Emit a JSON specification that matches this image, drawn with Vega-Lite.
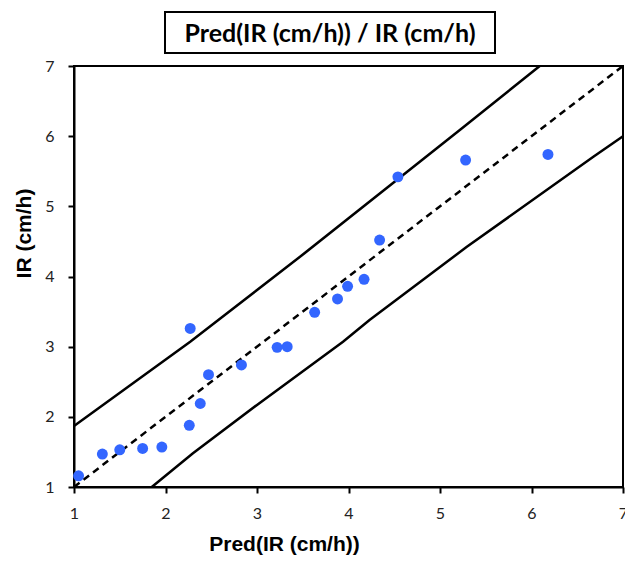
{
  "$schema": "https://vega.github.io/schema/vega-lite/v6.json",
  "background": "white",
  "padding": {"left": 12, "top": 11, "right": 2, "bottom": 5},
  "spacing": 3,
  "datasets": {
    "pts": [
      {"pred": 1.05, "ir": 1.16},
      {"pred": 1.31, "ir": 1.47},
      {"pred": 1.50, "ir": 1.53},
      {"pred": 1.75, "ir": 1.55},
      {"pred": 1.96, "ir": 1.57},
      {"pred": 2.26, "ir": 1.88},
      {"pred": 2.27, "ir": 3.26},
      {"pred": 2.38, "ir": 2.19},
      {"pred": 2.47, "ir": 2.60},
      {"pred": 2.83, "ir": 2.74},
      {"pred": 3.22, "ir": 2.99},
      {"pred": 3.33, "ir": 3.00},
      {"pred": 3.63, "ir": 3.49},
      {"pred": 3.88, "ir": 3.68},
      {"pred": 3.99, "ir": 3.86},
      {"pred": 4.17, "ir": 3.96},
      {"pred": 4.34, "ir": 4.52},
      {"pred": 4.54, "ir": 5.42},
      {"pred": 5.28, "ir": 5.66},
      {"pred": 6.18, "ir": 5.74}
    ],
    "upper": [
      {"pred": 1.0, "ir": 1.87},
      {"pred": 2.27, "ir": 3.07},
      {"pred": 3.47, "ir": 4.28},
      {"pred": 5.22, "ir": 6.09},
      {"pred": 6.09, "ir": 7.0}
    ],
    "lower": [
      {"pred": 1.85, "ir": 1.0},
      {"pred": 2.30, "ir": 1.48},
      {"pred": 3.0, "ir": 2.17},
      {"pred": 3.94, "ir": 3.07},
      {"pred": 4.23, "ir": 3.38},
      {"pred": 5.29, "ir": 4.42},
      {"pred": 6.68, "ir": 5.71},
      {"pred": 7.0, "ir": 6.0}
    ],
    "diag": [
      {"pred": 1, "ir": 1},
      {"pred": 7, "ir": 7}
    ],
    "ttl": [{"t": "Pred(IR (cm/h)) / IR (cm/h)"}]
  },
  "vconcat": [
    {
      "spacing": 0,
      "bounds": "flush",
      "hconcat": [
        {
          "width": 91,
          "height": 41,
          "view": {"stroke": null},
          "data": {"name": "ttl"},
          "mark": {"type": "text", "opacity": 0},
          "encoding": {"text": {"value": " "}}
        },
        {
          "width": 330,
          "height": 41,
          "view": {"stroke": "black", "strokeWidth": 2},
          "data": {"name": "ttl"},
          "mark": {"type": "text", "font": "Lato", "fontWeight": "bold", "fontSize": 25, "color": "black", "align": "center", "baseline": "middle", "dy": 1},
          "encoding": {"text": {"field": "t"}}
        }
      ]
    },
    {
      "width": 549,
      "height": 421,
      "view": {"stroke": "black", "strokeWidth": 2},
      "encoding": {
        "x": {
          "field": "pred",
          "type": "quantitative",
          "scale": {"domain": [1, 7], "nice": false, "zero": false},
          "axis": {
            "title": "Pred(IR (cm/h))",
            "values": [1, 2, 3, 4, 5, 6, 7],
            "grid": false,
            "domainColor": "black",
            "domainWidth": 2,
            "tickColor": "black",
            "tickWidth": 2,
            "tickSize": 6,
            "labelFont": "Lato",
            "labelFontSize": 16,
            "labelColor": "#222222",
            "labelPadding": 12,
            "labelFlush": false,
            "titleFont": "Liberation Sans",
            "titleFontWeight": "bold",
            "titleFontSize": 21,
            "titleColor": "black",
            "titleX": 210,
            "titlePadding": 12
          }
        },
        "y": {
          "field": "ir",
          "type": "quantitative",
          "scale": {"domain": [1, 7], "nice": false, "zero": false},
          "axis": {
            "title": "IR (cm/h)",
            "values": [1, 2, 3, 4, 5, 6, 7],
            "grid": false,
            "domainColor": "black",
            "domainWidth": 2,
            "tickColor": "black",
            "tickWidth": 2,
            "tickSize": 6,
            "labelFont": "Lato",
            "labelFontSize": 16,
            "labelColor": "#222222",
            "labelPadding": 14,
            "labelFlush": false,
            "titleFont": "Liberation Sans",
            "titleFontWeight": "bold",
            "titleFontSize": 21,
            "titleColor": "black",
            "titleY": 167,
            "titlePadding": 10
          }
        }
      },
      "layer": [
        {
          "data": {"name": "upper"},
          "mark": {"type": "line", "color": "black", "strokeWidth": 2.5}
        },
        {
          "data": {"name": "lower"},
          "mark": {"type": "line", "color": "black", "strokeWidth": 2.5}
        },
        {
          "data": {"name": "diag"},
          "mark": {"type": "line", "color": "black", "strokeWidth": 2.5, "strokeDash": [7, 5]}
        },
        {
          "data": {"name": "pts"},
          "mark": {"type": "circle", "color": "#3366ff", "opacity": 1, "size": 120}
        }
      ]
    }
  ]
}
